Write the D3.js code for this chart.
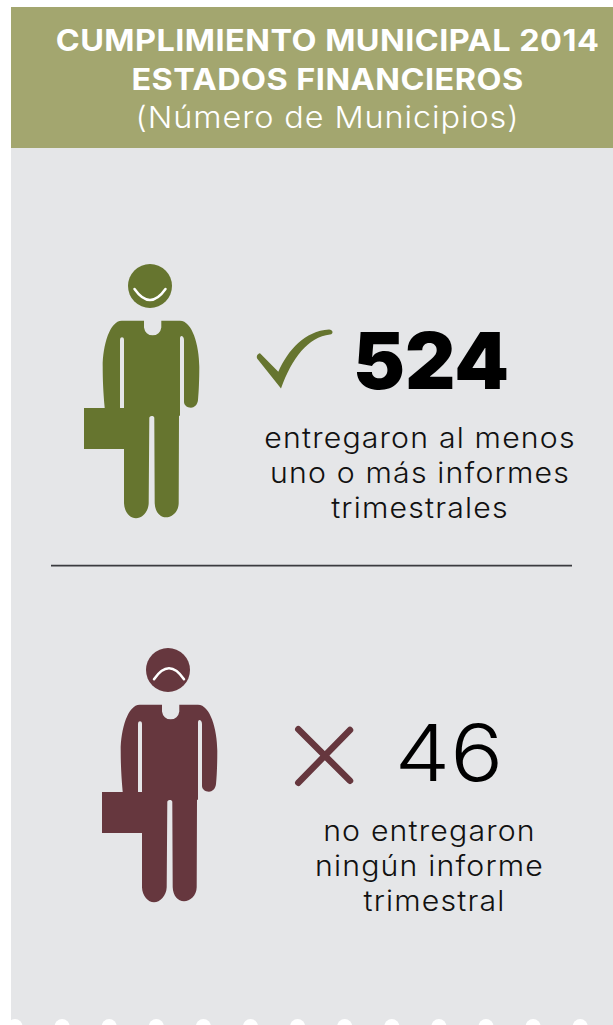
<!DOCTYPE html>
<html>
<head>
<meta charset="utf-8">
<script src="https://cdn.jsdelivr.net/npm/d3@7"></script>
<style>
  html, body { margin: 0; background: #fff; }
  svg { display: block; }
  text { font-family: Inter, "Open Sans", sans-serif; text-anchor: middle; }
</style>
</head>
<body>
<figure id="chart" style="margin:0"></figure>
<script>
const titleLines = ['CUMPLIMIENTO MUNICIPAL 2014', 'ESTADOS FINANCIEROS']
const subtitle = '(Número de Municipios)'
const categories = ['entregaron', 'no entregaron']
const values = [524, 46]
const captions = [
  ['entregaron al menos', 'uno o más informes', 'trimestrales'],
  ['no entregaron', 'ningún informe', 'trimestral']
]

const width = 613,
      height = 1025,
      wide = 1.08,   // the original typeface is wider than Inter
      colors = d3.scaleOrdinal(categories, ['#66752f', '#66373e']),
      rowShift = d3.scalePoint(categories, [0, 384]),
      numberX = d3.scaleOrdinal(categories, [431, 449]),
      numberY = d3.scaleOrdinal(categories, [388.5, 780.7]),
      numberWeight = d3.scaleOrdinal(categories, [900, 300]),
      numberWide = d3.scaleOrdinal(categories, [1, 1.13]),
      captionX = [[420, 420, 420], [429.5, 429.5, 434.5]],
      captionY = d3.scaleOrdinal(categories, [447.8, 841.5])

// stretch a text sideways around its own anchor
const stretch = (x, k) => `translate(${x},0) scale(${k},1) translate(${-x},0)`

// person outline, drawn once and shifted per row (hole = gap beside the left arm)
const personPath = `M121.7 320.7 L144 320.7 L144 327.6 A8.7 8.7 0 0 0 161.3 327.6 L161.3 320.7 L180 320.7
  C192 320.7 199.3 345 199.3 366.7 C199.3 380 198.8 392 198 400
  C197.5 405 194 407.7 191 407.7 C187 407.7 184 405 184 402 L184 340
  C184 337.5 182.5 336 181.5 336 C180.5 336 180 337 180 338.3 L180 415.7 L179 415.7
  L178.7 503.3 C178.5 512 172 517.3 166 517.3 C160 517.3 155 512 154.7 503.3 L154.3 418
  C154.3 416.5 153 416 151.7 416 C150 416 149.4 417 149.3 418 L148.7 503.3
  C148.3 512 142 518.3 136 518.3 C130 518.3 124.3 512 124 503.3 L124 449 L84 449 L84 408
  L104.7 408 C103.3 392 102.7 380 102.7 366.7 C102.7 345 110 320.7 121.7 320.7 Z
  M120 408 L120 340 C120 338 121 337.3 122 337.3 C123 337.3 124 338 124 340 L124 408 Z`

const svg = d3.select('#chart')
  .append('svg')
    .attr('width', width)
    .attr('height', height)

// panel
svg.append('rect')
    .attr('x', 11).attr('y', 148)
    .attr('width', width - 11).attr('height', height - 148)
    .attr('fill', '#e5e6e8')

// header
svg.append('rect')
    .attr('x', 11).attr('y', 7)
    .attr('width', width - 11).attr('height', 141)
    .attr('fill', '#a3a66f')

svg.selectAll('.title')
  .data(titleLines)
  .join('text')
    .attr('class', 'title')
    .attr('x', 327.5)
    .attr('y', (d, i) => 51 + i * 39)
    .attr('transform', stretch(327.5, wide))
    .attr('font-size', 30)
    .attr('font-weight', 700)
    .attr('letter-spacing', 0.45)
    .attr('fill', '#fff')
    .text(d => d)

svg.append('text')
    .attr('x', 327.5)
    .attr('y', 128)
    .attr('transform', stretch(327.5, wide))
    .attr('font-size', 30)
    .attr('font-weight', 300)
    .attr('letter-spacing', 0.85)
    .attr('fill', '#fff')
    .text(subtitle)

// scalloped lower edge
svg.selectAll('.scallop')
  .data(d3.range(13))
  .join('circle')
    .attr('class', 'scallop')
    .attr('cx', i => 15 + i * 47.1)
    .attr('cy', 1026.5)
    .attr('r', 7.5)
    .attr('fill', '#fff')

// divider
svg.append('line')
    .attr('x1', 51).attr('x2', 572)
    .attr('y1', 565.7).attr('y2', 565.7)
    .attr('stroke', '#3a3b3f')
    .attr('stroke-width', 1.7)

const rows = svg.selectAll('.row')
  .data(categories)
  .join('g')
    .attr('class', 'row')

// people
const people = rows.append('g')
    .attr('transform', d => `translate(${d === categories[0] ? 0 : 18},${rowShift(d)})`)

people.append('circle')
    .attr('cx', 150).attr('cy', 286).attr('r', 22)
    .attr('fill', d => colors(d))

people.append('path')
    .attr('d', personPath)
    .attr('fill-rule', 'evenodd')
    .attr('fill', d => colors(d))

people.append('path')
    .attr('d', (d, i) => i === 0 ? 'M134.5 289 Q150 311 165.5 289' : 'M136 295.3 Q151 273.3 166 295.3')
    .attr('fill', 'none')
    .attr('stroke', '#fff')
    .attr('stroke-width', 2.5)
    .attr('stroke-linecap', 'round')

// check and cross
rows.filter((d, i) => i === 0).append('path')
    .attr('d', `M257.5 359 C256 357 257 354 260 353.3 L278.3 371.7 C288 350 305 331 329 329.5
      C333 329.5 334 334 330 334.5 C308 337 292 358 281 388.5 Z`)
    .attr('fill', d => colors(d))

rows.filter((d, i) => i === 1).selectAll('line')
  .data(d => [[298.3, 729.3, 350, 780.7, d], [350, 730, 298.3, 782.7, d]])
  .join('line')
    .attr('x1', d => d[0]).attr('y1', d => d[1])
    .attr('x2', d => d[2]).attr('y2', d => d[3])
    .attr('stroke', d => colors(d[4]))
    .attr('stroke-width', 6.5)
    .attr('stroke-linecap', 'round')

// numbers
rows.append('text')
    .attr('x', d => numberX(d))
    .attr('y', d => numberY(d))
    .attr('transform', d => stretch(numberX(d), numberWide(d)))
    .attr('font-size', 78)
    .attr('font-weight', d => numberWeight(d))
    .attr('fill', '#000')
    .text((d, i) => values[i])

// captions
rows.each(function(d, i) {
  d3.select(this).selectAll('.caption')
    .data(captions[i])
    .join('text')
      .attr('class', 'caption')
      .attr('x', (c, j) => captionX[i][j])
      .attr('y', (c, j) => captionY(d) + j * 35)
      .attr('transform', (c, j) => stretch(captionX[i][j], wide))
      .attr('font-size', 28)
      .attr('font-weight', 350)
      .attr('letter-spacing', 1.1)
      .attr('fill', '#111')
      .text(c => c)
})
</script>
</body>
</html>
